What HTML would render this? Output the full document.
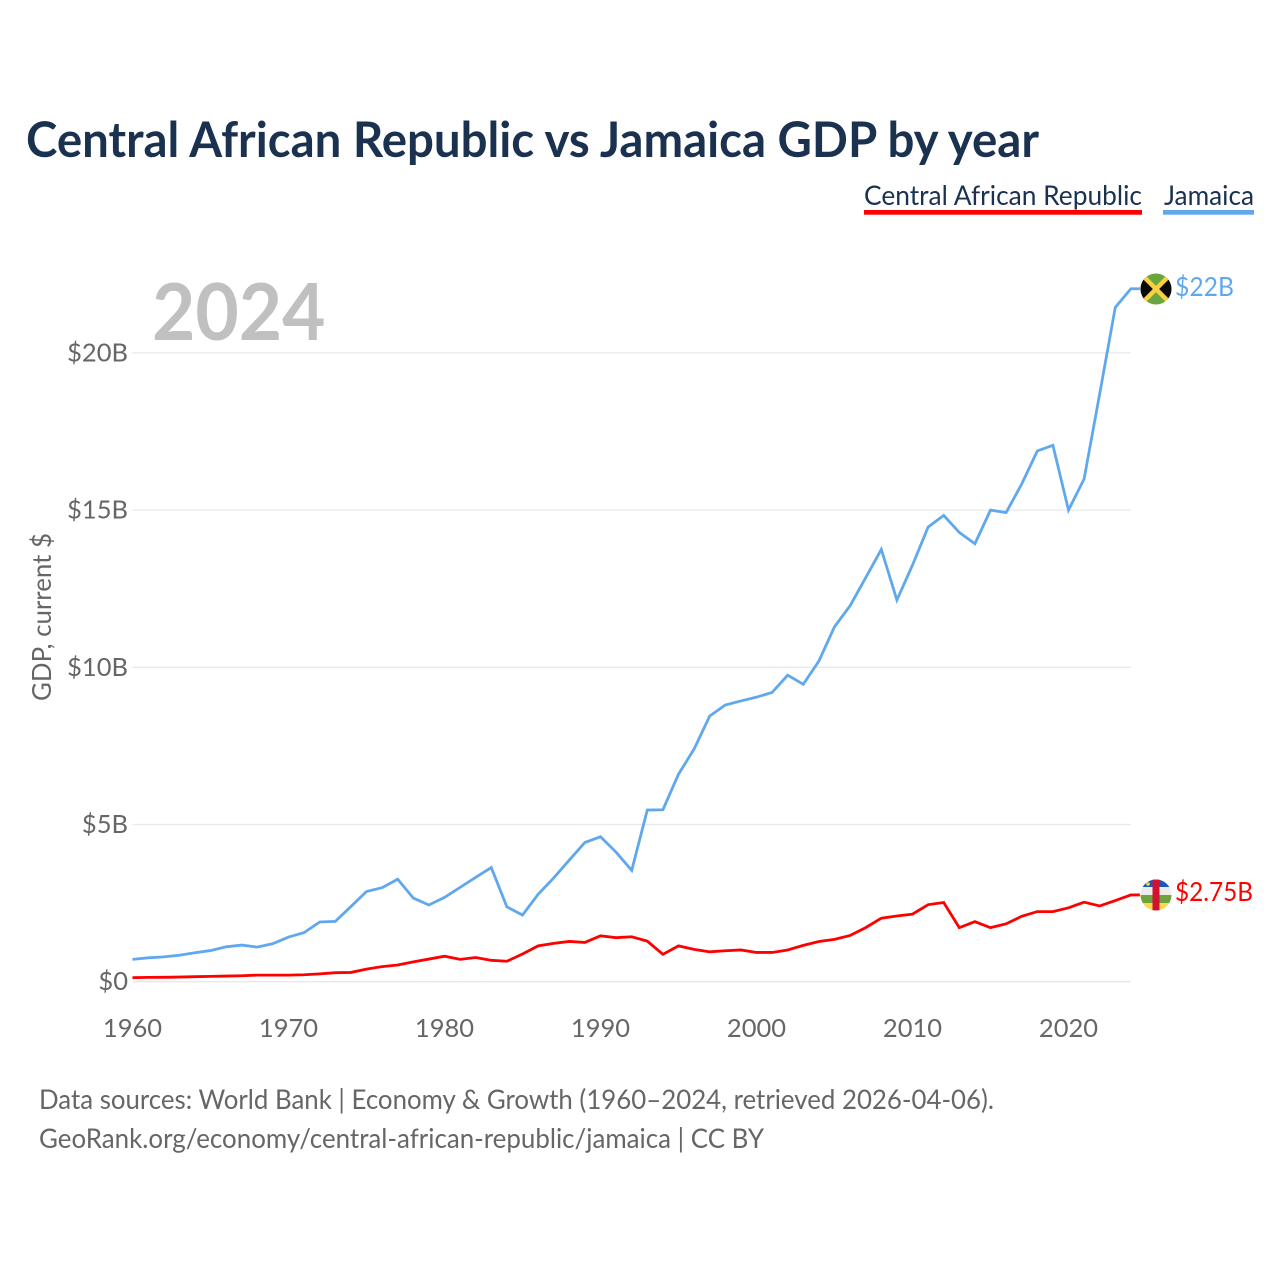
<!DOCTYPE html>
<html lang="en">
<head>
<meta charset="utf-8">
<title>Central African Republic vs Jamaica GDP by year</title>
<style>
html,body{margin:0;padding:0;background:#fff;}
svg{display:block;}
text{font-family:"Lato","Carlito","Liberation Sans",sans-serif;}
</style>
</head>
<body>
<svg id="chart" xmlns="http://www.w3.org/2000/svg" width="1280" height="1280" viewBox="0 0 1280 1280">
  <defs>
    <clipPath id="flag-clip-jm"><circle cx="1156" cy="289" r="15.5"/></clipPath>
    <clipPath id="flag-clip-cf"><circle cx="1156" cy="895" r="15.5"/></clipPath>
  </defs>
  <rect width="1280" height="1280" fill="#ffffff"/>
  <text x="26" y="157" font-size="49" font-weight="700" fill="#1a3250" textLength="1013" lengthAdjust="spacingAndGlyphs">Central African Republic vs Jamaica GDP by year</text>

  <g>
    <g>
      <text x="864" y="205" font-size="27.5" fill="#1a3250" textLength="278" lengthAdjust="spacingAndGlyphs">Central African Republic</text>
      <rect x="864" y="210" width="278" height="4.7" fill="#ff0000"/>
    </g>
    <g>
      <text x="1164" y="205" font-size="27.5" fill="#1a3250" textLength="90" lengthAdjust="spacingAndGlyphs">Jamaica</text>
      <rect x="1163" y="210" width="91" height="4.7" fill="#60a8ee"/>
    </g>
  </g>

  <text x="152" y="340" font-size="79" font-weight="700" fill="#c0c0c0" textLength="173.5" lengthAdjust="spacingAndGlyphs">2024</text>

  <g id="grid"></g>
  <g id="y-axis"></g>
  <g id="x-axis"></g>
  <text transform="translate(51,617) rotate(-90)" text-anchor="middle" font-size="26" fill="#666666" textLength="168" lengthAdjust="spacingAndGlyphs">GDP, current $</text>

  <g id="series"></g>

  <g clip-path="url(#flag-clip-jm)">
    <rect x="1140" y="273" width="32" height="32" fill="#6aa63f"/>
    <polygon points="1140,273 1156,289 1140,305" fill="#0a0a0a"/>
    <polygon points="1172,273 1156,289 1172,305" fill="#0a0a0a"/>
    <line x1="1140" y1="273" x2="1172" y2="305" stroke="#f7d13f" stroke-width="4.5"/>
    <line x1="1172" y1="273" x2="1140" y2="305" stroke="#f7d13f" stroke-width="4.5"/>
  </g>
  <g clip-path="url(#flag-clip-cf)">
    <rect x="1140" y="879" width="32" height="8" fill="#1f57b8"/>
    <rect x="1140" y="887" width="32" height="8" fill="#ececec"/>
    <rect x="1140" y="895" width="32" height="8" fill="#6fa33f"/>
    <rect x="1140" y="903" width="32" height="8" fill="#fbd94f"/>
    <rect x="1152.5" y="879" width="7" height="32" fill="#d3122f"/>
    <circle cx="1148" cy="884" r="1.8" fill="#f5d64a"/>
  </g>

  <text id="label-jm" x="1175" y="296" font-size="26.5" fill="#60a8ee" textLength="59" lengthAdjust="spacingAndGlyphs">$22B</text>
  <text id="label-cf" x="1175" y="901" font-size="26.5" fill="#ff0000" textLength="78" lengthAdjust="spacingAndGlyphs">$2.75B</text>

  <g>
    <text x="39" y="1109" font-size="27" fill="#666666" textLength="955" lengthAdjust="spacingAndGlyphs">Data sources: World Bank | Economy &amp; Growth (1960–2024, retrieved 2026-04-06).</text>
    <text x="39" y="1148" font-size="27" fill="#666666" textLength="725" lengthAdjust="spacingAndGlyphs">GeoRank.org/economy/central-african-republic/jamaica | CC BY</text>
  </g>
</svg>
<script>
const startYear = 1960;
const jamaicaValues = [0.71,0.76,0.79,0.84,0.92,0.99,1.11,1.165,1.10,1.21,1.42,1.56,1.90,1.92,2.39,2.87,2.99,3.26,2.66,2.44,2.68,3.0,3.32,3.63,2.38,2.12,2.78,3.3,3.87,4.43,4.61,4.12,3.54,5.46,5.47,6.6,7.4,8.45,8.8,8.93,9.05,9.2,9.75,9.46,10.2,11.29,11.96,12.85,13.75,12.14,13.25,14.46,14.83,14.29,13.93,15.0,14.92,15.83,16.88,17.06,15.0,15.99,18.7,21.45,22.04];
const carValues = [0.127,0.138,0.14,0.148,0.16,0.17,0.18,0.19,0.21,0.21,0.21,0.22,0.25,0.286,0.295,0.40,0.48,0.53,0.63,0.72,0.81,0.71,0.77,0.68,0.65,0.88,1.14,1.22,1.28,1.25,1.46,1.40,1.43,1.29,0.87,1.14,1.03,0.95,0.985,1.01,0.93,0.93,1.01,1.155,1.28,1.345,1.47,1.72,2.02,2.09,2.15,2.45,2.52,1.72,1.91,1.72,1.84,2.08,2.23,2.23,2.35,2.53,2.41,2.58,2.76];
const yTicks = [0,5,10,15,20];
const yTickLabels = ["$0","$5B","$10B","$15B","$20B"];
const xTicks = [1960,1970,1980,1990,2000,2010,2020];

const NS = "http://www.w3.org/2000/svg";
function xScale(year){ return 132.5 + (year - 1960) * 15.6; }
function yScale(v){ return 981.7 - v * 31.44; }
function make(tag, attrs, parent){
  const el = document.createElementNS(NS, tag);
  for (const k in attrs) el.setAttribute(k, attrs[k]);
  parent.appendChild(el);
  return el;
}
const gridG = document.getElementById("grid");
const yG = document.getElementById("y-axis");
const xG = document.getElementById("x-axis");
const seriesG = document.getElementById("series");

yTicks.forEach(function(t, i){
  const line = make("line", {x1:xScale(1960), x2:xScale(2024), y1:yScale(t), y2:yScale(t), stroke:"#e9e9e9", "stroke-width":1.3}, gridG);
  
  
  const lab = make("text", {x:128, y:yScale(t)+8.5, "text-anchor":"end", "font-size":25.5, fill:"#666666"}, yG);
  
  
  lab.textContent = yTickLabels[i];
});
xTicks.forEach(function(t){
  const lab = make("text", {x:xScale(t), y:1037, "text-anchor":"middle", "font-size":25.5, fill:"#666666"}, xG);
  
  
  lab.textContent = String(t);
});
function drawSeries(values, color){
  const pts = values.map(function(v, i){ return xScale(startYear + i).toFixed(2) + "," + yScale(v).toFixed(2); });
  const last = values[values.length - 1];
  pts.push((xScale(startYear + values.length - 1) + 9).toFixed(2) + "," + yScale(last).toFixed(2));
  return make("polyline", {points:pts.join(" "), fill:"none", stroke:color, "stroke-width":2.8, "stroke-linejoin":"miter"}, seriesG);
}
const jamaicaLine = drawSeries(jamaicaValues, "#60a8ee");


const carLine = drawSeries(carValues, "#ff0000");


</script>
</body>
</html>
